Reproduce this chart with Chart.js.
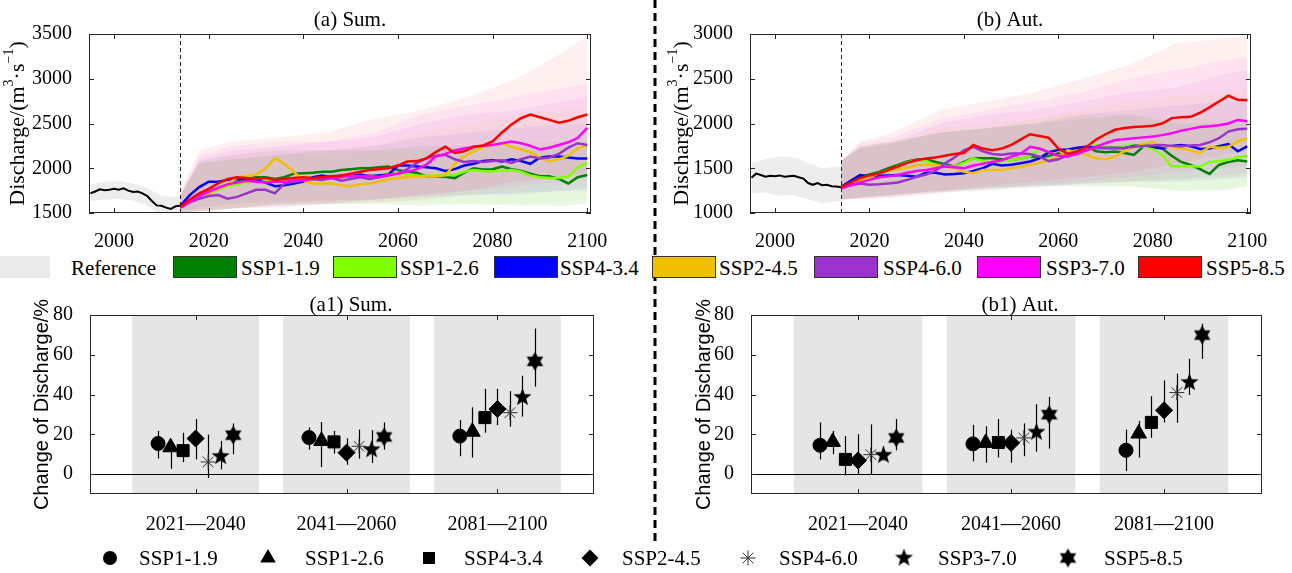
<!DOCTYPE html>
<html>
<head>
<meta charset="utf-8">
<script src="https://cdn.jsdelivr.net/npm/chart.js@4.4.1/dist/chart.umd.min.js"></script>
<style>
  body { margin: 0; background: #fff; width: 1292px; height: 573px; position: relative; overflow: hidden;
         font-family: 'Liberation Serif', 'Times New Roman', serif; }
  canvas { position: absolute; }
  .lg { position: absolute; font-size: 21px; line-height: 22px; color: #000; white-space: nowrap;
        font-family: 'Liberation Serif', 'Times New Roman', serif; }
  .sw { position: absolute; top: 256px; height: 22px; box-sizing: border-box; border: 1px solid #333; }
</style>
</head>
<body>
<svg style="position:absolute;left:0;top:0" width="1292" height="573">
  <line x1="655" y1="0" x2="655" y2="542" stroke="#000" stroke-width="3" stroke-dasharray="8,5"/>
</svg>
<canvas id="cA" width="650" height="250" style="left:0;top:0"></canvas>
<canvas id="cB" width="642" height="250" style="left:650px;top:0"></canvas>
<canvas id="cA1" width="650" height="245" style="left:0;top:290px"></canvas>
<canvas id="cB1" width="642" height="245" style="left:650px;top:290px"></canvas>
<canvas id="cLeg" width="1292" height="30" style="left:0;top:543px"></canvas>
<div id="legTop"></div>
<div id="legBot"></div>
<script>
// ---------- data ----------
const scenarios = ['SSP1-1.9', 'SSP1-2.6', 'SSP4-3.4', 'SSP2-4.5', 'SSP4-6.0', 'SSP3-7.0', 'SSP5-8.5'];
const colors = ['#008000', '#80ff00', '#0000ff', '#f0c000', '#9933cc', '#ff00ff', '#ff0000'];
const periods = ['2021\u20142040', '2041\u20142060', '2081\u20142100'];

const refYears = [1995, 1996, 1997, 1998, 1999, 2000, 2001, 2002, 2003, 2004,
                  2005, 2006, 2007, 2008, 2009, 2010, 2011, 2012, 2013, 2014];
const refBandYears = [1995, 1998, 2001, 2004, 2007, 2010, 2014];
const years = [2014, 2016, 2018, 2020, 2022, 2024, 2026, 2028, 2030, 2032, 2034,
               2036, 2038, 2040, 2042, 2044, 2046, 2048, 2050, 2052, 2054, 2056,
               2058, 2060, 2062, 2064, 2066, 2068, 2070, 2072, 2074, 2076, 2078,
               2080, 2082, 2084, 2086, 2088, 2090, 2092, 2094, 2096, 2098, 2100];
const bandYears = [2014, 2018, 2025, 2035, 2045, 2055, 2065, 2075, 2085, 2095, 2100];

// (a) summer
const sumRef = [1720, 1740, 1765, 1755, 1760, 1770, 1760, 1775, 1750, 1735,
                1740, 1720, 1690, 1635, 1585, 1580, 1560, 1545, 1575, 1580];
const sumRefUp = [1820, 1850, 1860, 1830, 1780, 1690, 1680];
const sumRefLo = [1630, 1650, 1660, 1640, 1580, 1470, 1480];
const sumSSP119 = [1570,1640,1700,1740,1780,1820,1850,1880,1900,1900,1880,
                   1900,1940,1945,1950,1960,1960,1980,1990,2000,2000,2010,
                   2020,1980,1960,1950,1910,1910,1905,1890,1950,2000,1985,
                   1990,2020,1990,1970,1940,1910,1910,1880,1830,1900,1925];
const sumSSP126 = [1560,1620,1680,1720,1760,1800,1820,1840,1850,1860,1860,
                   1870,1850,1840,1870,1880,1890,1900,1905,1910,1920,1930,
                   1940,1945,1930,1920,1915,1920,1925,1925,1960,1980,1970,
                   1965,1975,1980,1960,1920,1900,1890,1890,1905,2010,2060];
const sumSSP434 = [1580,1700,1790,1850,1850,1870,1880,1880,1870,1840,1800,
                   1810,1830,1850,1900,1920,1900,1920,1910,1930,1910,1920,
                   1930,2030,2030,2020,2010,2000,1970,1990,2030,2050,2080,
                   2090,2075,2100,2080,2050,2120,2130,2130,2120,2110,2110];
const sumSSP245 = [1570,1620,1680,1720,1770,1820,1900,1910,1930,2000,2110,
                   2050,1960,1860,1830,1830,1830,1810,1800,1820,1830,1850,
                   1880,1890,1900,1905,1910,1910,1920,2050,2130,2190,2240,
                   2260,2280,2240,2210,2180,2120,2080,2100,2140,2220,2260];
const sumSSP460 = [1560,1620,1660,1690,1700,1660,1680,1720,1760,1760,1720,
                   1830,1850,1860,1880,1870,1890,1860,1880,1900,1880,1900,
                   1920,1940,1990,2060,2110,2140,2150,2100,2070,2080,2070,
                   2080,2090,2060,2100,2130,2110,2120,2160,2230,2280,2260];
const sumSSP370 = [1560,1620,1690,1740,1780,1820,1840,1860,1850,1840,1850,
                   1850,1860,1870,1880,1900,1890,1900,1920,1910,1920,1900,
                   1930,1940,1960,1990,2040,2130,2160,2200,2220,2240,2250,
                   2260,2280,2300,2280,2250,2210,2230,2260,2290,2340,2450];
const sumSSP585 = [1570,1650,1720,1770,1830,1880,1900,1890,1880,1890,1870,
                   1880,1890,1900,1890,1900,1910,1920,1940,1960,1980,1990,
                   2000,2030,2075,2080,2110,2180,2240,2170,2190,2240,2255,
                   2300,2400,2490,2560,2600,2570,2540,2510,2530,2570,2600];
const sumUp = [
  [1700, 2050, 2100, 2150, 2200, 2200, 2250, 2250, 2250, 2250, 2300],
  [1700, 2050, 2100, 2150, 2150, 2200, 2200, 2250, 2300, 2300, 2350],
  [1700, 2080, 2150, 2200, 2200, 2250, 2350, 2400, 2450, 2500, 2500],
  [1700, 2080, 2150, 2250, 2200, 2250, 2400, 2500, 2600, 2650, 2650],
  [1700, 2100, 2200, 2250, 2300, 2350, 2500, 2600, 2650, 2750, 2800],
  [1700, 2150, 2250, 2300, 2300, 2400, 2600, 2700, 2800, 2900, 2950],
  [1750, 2200, 2300, 2350, 2400, 2550, 2650, 2800, 3000, 3300, 3480]
];
const sumLo = [
  [1500, 1520, 1550, 1580, 1600, 1600, 1580, 1600, 1580, 1580, 1600],
  [1500, 1520, 1550, 1580, 1600, 1620, 1620, 1600, 1600, 1620, 1650],
  [1500, 1560, 1600, 1620, 1640, 1650, 1680, 1700, 1720, 1750, 1750],
  [1500, 1520, 1550, 1600, 1600, 1600, 1650, 1700, 1750, 1800, 1800],
  [1500, 1520, 1550, 1580, 1600, 1620, 1650, 1700, 1700, 1750, 1780],
  [1500, 1520, 1550, 1550, 1600, 1650, 1700, 1750, 1800, 1850, 1900],
  [1550, 1530, 1550, 1600, 1620, 1650, 1700, 1750, 1850, 1900, 1950]
];

// (b) autumn
const autRef = [1395, 1440, 1425, 1405, 1415, 1410, 1420, 1405, 1410, 1415,
                1400, 1385, 1335, 1315, 1335, 1310, 1315, 1300, 1295, 1288];
const autRefUp = [1560, 1600, 1630, 1620, 1560, 1500, 1520];
const autRefLo = [1220, 1230, 1190, 1200, 1150, 1110, 1140];
const autSSP119 = [1295,1350,1400,1430,1460,1500,1537,1575,1598,1600,1570,
                   1545,1520,1570,1612,1612,1612,1600,1593,1610,1631,1620,
                   1640,1668,1630,1690,1743,1690,1680,1687,1670,1650,1743,
                   1735,1720,1640,1570,1537,1490,1437,1537,1570,1590,1575];
const autSSP126 = [1290,1340,1380,1400,1430,1470,1520,1565,1590,1580,1530,
                   1519,1519,1560,1612,1580,1556,1575,1593,1610,1631,1724,
                   1668,1705,1700,1705,1735,1761,1745,1735,1750,1761,1745,
                   1720,1650,1520,1526,1522,1519,1570,1580,1595,1623,1638];
const autSSP434 = [1290,1360,1425,1410,1415,1420,1425,1415,1405,1450,1450,
                   1430,1435,1444,1470,1500,1550,1530,1540,1555,1575,1610,
                   1680,1705,1710,1730,1740,1730,1725,1725,1724,1750,1760,
                   1740,1725,1750,1760,1745,1715,1720,1745,1770,1690,1745];
const autSSP245 = [1290,1320,1360,1400,1440,1480,1490,1505,1535,1540,1535,
                   1525,1500,1460,1445,1480,1480,1480,1500,1515,1540,1560,
                   1590,1630,1700,1680,1650,1610,1600,1630,1690,1735,1770,
                   1790,1750,1735,1725,1700,1670,1740,1730,1740,1800,1835];
const autSSP460 = [1280,1310,1330,1315,1320,1330,1340,1370,1405,1430,1470,
                   1555,1620,1700,1740,1690,1660,1650,1665,1665,1660,1630,
                   1580,1600,1645,1680,1710,1725,1725,1725,1730,1740,1750,
                   1755,1760,1750,1745,1755,1760,1790,1835,1910,1935,1940];
const autSSP370 = [1280,1310,1340,1370,1400,1410,1425,1450,1470,1480,1500,
                   1520,1510,1500,1530,1550,1570,1590,1630,1660,1740,1720,
                   1680,1640,1635,1660,1700,1740,1780,1815,1825,1835,1845,
                   1855,1870,1890,1920,1940,1960,1970,1980,2000,2040,2025];
const autSSP585 = [1290,1340,1390,1420,1440,1480,1520,1560,1590,1610,1620,
                   1640,1660,1670,1760,1720,1700,1720,1760,1820,1880,1860,
                   1840,1720,1660,1690,1740,1820,1880,1930,1950,1960,1966,
                   1975,2000,2060,2070,2075,2120,2180,2246,2310,2265,2260];
const autUp = [
  [1580, 1750, 1800, 1900, 1950, 2000, 2050, 2100, 2000, 2000, 2000],
  [1580, 1750, 1800, 1900, 1950, 2050, 2100, 2100, 2050, 2050, 2050],
  [1580, 1720, 1780, 1900, 1950, 2000, 2100, 2150, 2200, 2250, 2250],
  [1580, 1720, 1780, 1950, 2000, 2050, 2150, 2250, 2300, 2350, 2400],
  [1580, 1740, 1800, 2000, 2100, 2150, 2250, 2350, 2400, 2550, 2600],
  [1580, 1780, 1850, 2050, 2150, 2250, 2350, 2500, 2600, 2700, 2750],
  [1600, 1800, 1900, 2150, 2250, 2350, 2500, 2650, 2900, 2950, 2980]
];
const autLo = [
  [1150, 1170, 1200, 1240, 1270, 1300, 1300, 1300, 1250, 1250, 1300],
  [1150, 1170, 1200, 1230, 1260, 1300, 1320, 1300, 1250, 1270, 1300],
  [1150, 1170, 1200, 1250, 1280, 1300, 1330, 1350, 1350, 1380, 1400],
  [1150, 1160, 1180, 1230, 1260, 1300, 1330, 1350, 1380, 1400, 1420],
  [1150, 1150, 1170, 1220, 1250, 1280, 1320, 1350, 1380, 1420, 1450],
  [1150, 1160, 1180, 1230, 1280, 1320, 1350, 1400, 1450, 1500, 1520],
  [1150, 1170, 1200, 1250, 1300, 1350, 1400, 1450, 1550, 1650, 1700]
];

// (a1)/(b1) change of discharge, per scenario: [2021-2040, 2041-2060, 2081-2100]
const sumChg = [[15.4, 18.4, 19.1], [13.5, 16.7, 21.3], [11.8, 16.2, 28.4], [17.9, 10.8, 32.7],
                [6.1, 14.0, 30.9], [8.9, 12.3, 38.6], [19.6, 18.7, 56.7]];
const sumChgLo = [[7.8, 12.3, 9.0], [2.7, 3.5, 8.3], [6.0, 10.3, 20.8], [7.4, 4.7, 24.6],
                  [-2.0, 7.8, 23.8], [2.4, 5.6, 28.9], [10.0, 12.3, 44.0]];
const sumChgHi = [[21.8, 23.5, 27.2], [17.0, 26.2, 33.6], [20.8, 21.8, 42.9], [27.7, 18.0, 42.9],
                  [19.9, 22.4, 41.7], [16.7, 22.1, 49.5], [25.5, 26.0, 73.2]];
const autChg = [[14.5, 15.2, 12.0], [16.2, 15.7, 20.4], [7.4, 15.9, 26.0], [6.9, 15.7, 32.1],
                [9.8, 18.2, 41.0], [9.5, 21.1, 46.1], [18.2, 29.9, 69.9]];
const autChgLo = [[7.4, 6.4, 1.5], [10.0, 5.7, 8.3], [-0.7, 8.4, 18.2], [-0.3, 5.7, 26.0],
                  [0.0, 9.0, 25.8], [6.9, 11.3, 39.8], [12.0, 12.8, 57.9]];
const autChgHi = [[26.0, 24.8, 22.4], [21.8, 24.0, 26.7], [19.1, 27.7, 39.2], [20.1, 22.3, 47.1],
                  [25.0, 25.5, 50.5], [14.0, 35.1, 58.0], [27.7, 38.8, 75.6]];

const topXTicks = [2000, 2020, 2040, 2060, 2080, 2100];
const sumYTicks = [1500, 2000, 2500, 3000, 3500];
const autYTicks = [1000, 1500, 2000, 2500, 3000];
const chgYTicks = [0, 20, 40, 60, 80];

// ---------- helpers ----------
const SERIF = "'Liberation Serif', 'Times New Roman', serif";
const SANS = "'Liberation Sans', Arial, sans-serif";

function rgba(hex, a) {
  const n = parseInt(hex.slice(1), 16);
  return `rgba(${n >> 16},${(n >> 8) & 255},${n & 255},${a})`;
}

function starImage(points, rOut, rIn) {
  const c = document.createElement('canvas');
  const s = Math.ceil(rOut * 2 + 2);
  c.width = s; c.height = s;
  const g = c.getContext('2d');
  g.fillStyle = '#000';
  g.beginPath();
  for (let i = 0; i < points * 2; i++) {
    const r = i % 2 === 0 ? rOut : rIn;
    const ang = -Math.PI / 2 + i * Math.PI / points;
    const px = s / 2 + r * Math.cos(ang), py = s / 2 + r * Math.sin(ang);
    i === 0 ? g.moveTo(px, py) : g.lineTo(px, py);
  }
  g.closePath();
  g.fill();
  return c;
}
const pentagram = starImage(5, 9.5, 3.9);
const hexagram = starImage(6, 9.5, 5.4);
const markers = ['circle', 'triangle', 'rect', 'rectRot', 'star', pentagram, hexagram];
const markerRadius = [7, 9, 8.5, 8.5, 7.5, 9, 9];

function richText(ctx, parts, cx, cy, size, rotate) {
  ctx.save();
  ctx.translate(cx, cy);
  if (rotate) ctx.rotate(-Math.PI / 2);
  ctx.textBaseline = 'middle';
  ctx.textAlign = 'left';
  let w = 0;
  parts.forEach(p => {
    ctx.font = `${p[1] ? Math.round(size * 0.62) : size}px ${p[2] || SERIF}`;
    w += ctx.measureText(p[0]).width;
  });
  let x = -w / 2;
  parts.forEach(p => {
    ctx.font = `${p[1] ? Math.round(size * 0.62) : size}px ${p[2] || SERIF}`;
    ctx.fillText(p[0], x, p[1] ? -size * 0.38 : 0);
    x += ctx.measureText(p[0]).width;
  });
  ctx.restore();
}

const frame = {
  id: 'frame',
  beforeDatasetsDraw(chart, args, o) {
    const { ctx, chartArea: a, scales: { x, y } } = chart;
    ctx.save();
    if (o.boxes) {
      ctx.fillStyle = '#e5e5e5';
      o.boxes.forEach(c => {
        const l = x.getPixelForValue(c - o.boxHalf), r = x.getPixelForValue(c + o.boxHalf);
        ctx.fillRect(l, a.top + 1, r - l, a.bottom - a.top - 2);
      });
    }
    if (o.zero) {
      const py = Math.round(y.getPixelForValue(0)) + 0.5;
      ctx.strokeStyle = '#000'; ctx.lineWidth = 1.2;
      ctx.beginPath(); ctx.moveTo(a.left, py); ctx.lineTo(a.right, py); ctx.stroke();
    }
    if (o.errors) {
      ctx.strokeStyle = '#000'; ctx.lineWidth = 1.2;
      chart.data.datasets.forEach((ds, i) => {
        const meta = chart.getDatasetMeta(i);
        ds.data.forEach((p, j) => {
          const px = Math.round(meta.data[j].x) + 0.5;
          ctx.beginPath();
          ctx.moveTo(px, y.getPixelForValue(p.lo));
          ctx.lineTo(px, y.getPixelForValue(p.hi));
          ctx.stroke();
        });
      });
    }
    ctx.restore();
  },
  afterDraw(chart, args, o) {
    const { ctx, chartArea: a, scales: { x, y } } = chart;
    ctx.save();
    if (o.dash != null) {
      const px = Math.round(x.getPixelForValue(o.dash)) + 0.5;
      ctx.strokeStyle = '#222'; ctx.lineWidth = 1; ctx.setLineDash([4, 3]);
      ctx.beginPath(); ctx.moveTo(px, a.top); ctx.lineTo(px, a.bottom); ctx.stroke();
      ctx.setLineDash([]);
    }
    ctx.strokeStyle = '#262626'; ctx.lineWidth = 1;
    ctx.strokeRect(Math.round(a.left) + 0.5, Math.round(a.top) + 0.5,
                   Math.round(a.right - a.left) - 1, Math.round(a.bottom - a.top) - 1);
    ctx.beginPath();
    x.ticks.forEach(t => {
      const px = Math.round(x.getPixelForValue(t.value)) + 0.5;
      ctx.moveTo(px, a.bottom); ctx.lineTo(px, a.bottom - 5);
      ctx.moveTo(px, a.top); ctx.lineTo(px, a.top + 5);
    });
    y.ticks.forEach(t => {
      const py = Math.round(y.getPixelForValue(t.value)) + 0.5;
      ctx.moveTo(a.left, py); ctx.lineTo(a.left + 5, py);
      ctx.moveTo(a.right, py); ctx.lineTo(a.right - 5, py);
    });
    ctx.stroke();
    ctx.fillStyle = '#000';
    ctx.font = `21px ${SERIF}`;
    ctx.textAlign = 'center'; ctx.textBaseline = 'middle';
    ctx.fillText(o.title, o.tx, o.ty);
    richText(ctx, o.ytitle, o.yx, (a.top + a.bottom) / 2, o.ysize, true);
    ctx.restore();
  }
};

function scaleBase(min, max, ticks, fit, pad, cb) {
  return {
    type: 'linear', min, max,
    afterBuildTicks: ax => { ax.ticks = ticks.map(v => ({ value: v })); },
    afterFit: fit,
    grid: { display: false }, border: { display: false },
    ticks: { color: '#000', font: { family: SERIF, size: 20 }, padding: pad,
             maxRotation: 0, autoSkip: false, callback: cb || (v => v) }
  };
}

function topChart(id, ref, refUp, refLo, lines, up, lo, yMin, yMax, yTicks, lay, plug) {
  const ds = [];
  // lines first so they are painted over the bands, red on top
  for (let i = lines.length - 1; i >= 0; i--) {
    ds.push({ data: years.map((yr, k) => ({ x: yr, y: lines[i][k] })), borderColor: colors[i],
              borderWidth: 2.5, pointRadius: 0, fill: false, tension: 0 });
  }
  ds.push({ data: refYears.map((yr, k) => ({ x: yr, y: ref[k] })), borderColor: '#000',
            borderWidth: 2, pointRadius: 0, fill: false, tension: 0 });
  for (let i = lines.length - 1; i >= 0; i--) {
    ds.push({ data: bandYears.map((yr, k) => ({ x: yr, y: up[i][k] })), borderWidth: 0, borderColor: 'rgba(0,0,0,0)',
              pointRadius: 0, fill: '+1', backgroundColor: rgba(colors[i], i < 2 ? 0.07 : 0.06), tension: 0 });
    ds.push({ data: bandYears.map((yr, k) => ({ x: yr, y: lo[i][k] })), borderWidth: 0, borderColor: 'rgba(0,0,0,0)',
              pointRadius: 0, fill: false, tension: 0 });
  }
  ds.push({ data: refBandYears.map((yr, k) => ({ x: yr, y: refUp[k] })), borderWidth: 0, borderColor: 'rgba(0,0,0,0)',
            pointRadius: 0, fill: '+1', backgroundColor: 'rgba(225,225,225,0.6)', tension: 0 });
  ds.push({ data: refBandYears.map((yr, k) => ({ x: yr, y: refLo[k] })), borderWidth: 0, borderColor: 'rgba(0,0,0,0)',
            pointRadius: 0, fill: false, tension: 0 });

  return new Chart(document.getElementById(id), {
    type: 'line',
    data: { datasets: ds },
    options: {
      responsive: false, animation: false, events: [],
      layout: { padding: { left: 0, right: lay.right, top: lay.top, bottom: 0 } },
      plugins: { legend: { display: false }, tooltip: { enabled: false }, frame: plug },
      scales: {
        x: scaleBase(1994.7, 2100.8, topXTicks, s => { s.height = lay.xh; }, 9),
        y: scaleBase(yMin, yMax, yTicks, s => { s.width = lay.yw; }, 9)
      }
    },
    plugins: [frame]
  });
}

function chgChart(id, mean, low, high, lay, plug) {
  const ds = scenarios.map((name, i) => ({
    label: name,
    data: mean[i].map((v, g) => ({ x: g + 1 + (i - 3) * 0.083, y: v, lo: low[i][g], hi: high[i][g] })),
    pointStyle: markers[i], pointRadius: markerRadius[i],
    backgroundColor: '#000', borderColor: i === 4 ? '#333' : '#000', borderWidth: 1
  }));
  return new Chart(document.getElementById(id), {
    type: 'scatter',
    data: { datasets: ds },
    options: {
      responsive: false, animation: false, events: [],
      layout: { padding: { left: 0, right: lay.right, top: lay.top, bottom: 0 } },
      plugins: { legend: { display: false }, tooltip: { enabled: false }, frame: plug },
      scales: {
        x: scaleBase(0.3, 3.64, [1, 2, 3], s => { s.height = lay.xh; }, 11, v => periods[Math.round(v) - 1]),
        y: scaleBase(-10, 80, chgYTicks, s => { s.width = lay.yw; }, 9)
      }
    },
    plugins: [frame]
  });
}

const dischargeTitle = [['Discharge/(m', false], ['3', true], ['\u00b7s', false], ['\u22121', true], [')', false]];
const changeTitle = [['Change of Discharge/%', false, SANS]];

topChart('cA', sumRef, sumRefUp, sumRefLo,
  [sumSSP119, sumSSP126, sumSSP434, sumSSP245, sumSSP460, sumSSP370, sumSSP585], sumUp, sumLo,
  1500, 3500, sumYTicks, { right: 59, top: 34, xh: 37, yw: 89 },
  { title: '(a) Sum.', tx: 350, ty: 20, ytitle: dischargeTitle, yx: 18, ysize: 22, dash: 2014 });
topChart('cB', autRef, autRefUp, autRefLo,
  [autSSP119, autSSP126, autSSP434, autSSP245, autSSP460, autSSP370, autSSP585], autUp, autLo,
  1000, 3000, autYTicks, { right: 41, top: 34, xh: 37, yw: 100 },
  { title: '(b) Aut.', tx: 360, ty: 20, ytitle: dischargeTitle, yx: 32, ysize: 22, dash: 2014 });
chgChart('cA1', sumChg, sumChgLo, sumChgHi, { right: 56, top: 25, xh: 41, yw: 90 },
  { title: '(a1) Sum.', tx: 351, ty: 15, ytitle: changeTitle, yx: 42, ysize: 20,
    boxes: [1, 2, 3], boxHalf: 0.42, zero: true, errors: true });
chgChart('cB1', autChg, autChgLo, autChgHi, { right: 30, top: 25, xh: 41, yw: 101 },
  { title: '(b1) Aut.', tx: 370, ty: 15, ytitle: changeTitle, yx: 54, ysize: 20,
    boxes: [1, 2, 3], boxHalf: 0.42, zero: true, errors: true });

// ---------- legends ----------
const topLeg = document.getElementById('legTop');
const swLeft = [173, 333, 494, 652, 814, 977, 1138];
const txLeft = [241, 400, 560, 719, 883, 1046, 1206];
topLeg.innerHTML = '<div class="sw" style="left:0;width:50px;background:#ebebeb;border:none"></div>' +
  '<div class="lg" style="left:71px;top:257px">Reference</div>' +
  scenarios.map((s, i) =>
    `<div class="sw" style="left:${swLeft[i]}px;width:64px;background:${colors[i]}"></div>` +
    `<div class="lg" style="left:${txLeft[i]}px;top:257px">${s}</div>`).join('');

const botLeg = document.getElementById('legBot');
const mkX = [110, 268, 429, 590, 748, 904, 1068];
const mkTx = [139, 305, 464, 622, 779, 938, 1104];
botLeg.innerHTML = scenarios.map((s, i) =>
  `<div class="lg" style="left:${mkTx[i]}px;top:547px">${s}</div>`).join('');

const lc = document.getElementById('cLeg').getContext('2d');
const cy = 15;
lc.fillStyle = '#000'; lc.strokeStyle = '#000';
lc.beginPath(); lc.arc(mkX[0], cy, 7, 0, Math.PI * 2); lc.fill();
lc.beginPath(); lc.moveTo(mkX[1], cy - 9); lc.lineTo(mkX[1] + 7.8, cy + 4.5); lc.lineTo(mkX[1] - 7.8, cy + 4.5); lc.closePath(); lc.fill();
lc.fillRect(mkX[2] - 6, cy - 6, 12, 12);
lc.beginPath(); lc.moveTo(mkX[3], cy - 8.5); lc.lineTo(mkX[3] + 8.5, cy); lc.lineTo(mkX[3], cy + 8.5); lc.lineTo(mkX[3] - 8.5, cy); lc.closePath(); lc.fill();
lc.strokeStyle = '#333'; lc.lineWidth = 1;
lc.beginPath();
for (let k = 0; k < 4; k++) {
  const ang = k * Math.PI / 4;
  lc.moveTo(mkX[4] - 7.5 * Math.cos(ang), cy - 7.5 * Math.sin(ang));
  lc.lineTo(mkX[4] + 7.5 * Math.cos(ang), cy + 7.5 * Math.sin(ang));
}
lc.stroke();
lc.drawImage(pentagram, mkX[5] - pentagram.width / 2, cy - pentagram.height / 2);
lc.drawImage(hexagram, mkX[6] - hexagram.width / 2, cy - hexagram.height / 2);
</script>
</body>
</html>
